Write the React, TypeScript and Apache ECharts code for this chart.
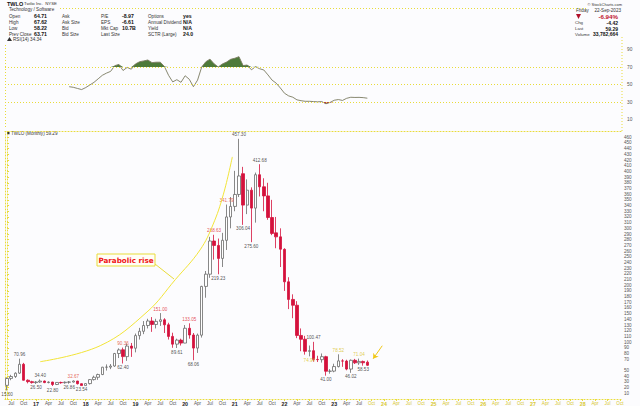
import React, { useEffect, useRef } from 'react';
import * as echarts from 'echarts';

// ---------- axis categories (monthly, Jun 2016 .. Oct 2028) ----------
const firstYear = 2016;
const firstMonth = 6;
const axisMonthCount = 149;
const monthAbbr = ['Jan', 'Feb', 'Mar', 'Apr', 'May', 'Jun', 'Jul', 'Aug', 'Sep', 'Oct', 'Nov', 'Dec'];
const categories: string[] = Array.from({ length: axisMonthCount }, (_, i) => {
  const m = firstMonth - 1 + i;
  const y = firstYear + Math.floor(m / 12);
  return `${y}-${String((m % 12) + 1).padStart(2, '0')}`;
});
const lastDataMonth = '2023-09';

// ---------- monthly candles, Jun 2016 .. Sep 2023 ----------
const opens = [
  23.99, 36.2, 39.5, 45.5, 61.0, 33.0, 30.5,
  28.85, 29.9, 31.5, 28.9, 29.8, 25.5, 29.1, 28.6, 29.5, 29.85, 31.6, 26.9,
  23.6, 27.1, 34.1, 38.2, 43.0, 55.9, 56.0, 58.0, 80.0, 86.5, 74.5, 93.0,
  89.3, 111.4, 119.0, 129.2, 137.1, 131.0, 136.4, 139.2, 130.4, 110.0, 96.4, 103.5,
  98.3, 124.3, 112.5, 89.5, 112.2, 197.9, 219.4, 277.7, 269.9, 247.1, 278.9, 320.0,
  338.5, 359.5, 396.0, 340.8, 367.0, 335.5, 394.2, 373.0, 357.0, 319.0, 292.0, 285.0,
  263.0, 206.0, 175.0, 164.8, 111.7, 105.0, 83.8, 84.9, 69.5, 69.14, 74.4, 48.8,
  49.0, 57.0, 67.0, 66.6, 52.6, 68.0, 63.6, 66.0, 64.71,
];
const highs = [
  38.0, 42.5, 46.9, 70.96, 63.5, 34.5, 32.0,
  31.5, 34.4, 32.5, 31.0, 30.2, 29.5, 30.5, 30.8, 31.5, 32.67, 31.9, 27.5,
  27.8, 35.0, 41.0, 44.5, 56.5, 60.8, 61.5, 81.0, 89.0, 90.36, 97.5, 98.5,
  115.0, 125.0, 137.0, 141.0, 144.0, 141.0, 151.0, 142.0, 134.0, 116.5, 106.0, 106.0,
  130.0, 133.05, 116.0, 115.0, 199.0, 225.0, 285.0, 288.63, 282.0, 292.0, 341.79, 355.0,
  401.0, 457.3, 408.0, 386.0, 372.0, 398.0, 412.68, 388.0, 380.0, 350.0, 320.0, 300.0,
  265.0, 214.0, 184.0, 172.0, 124.0, 111.0, 94.0, 100.47, 76.0, 80.0, 76.0, 52.5,
  62.0, 78.52, 70.0, 69.0, 69.5, 70.5, 71.04, 67.5, 67.62,
];
const lows = [
  15.0, 33.0, 37.0, 44.0, 32.5, 27.5, 27.0,
  26.5, 28.5, 27.8, 27.5, 22.8, 24.5, 26.8, 26.9, 26.86, 29.0, 25.5, 23.54,
  23.6, 25.5, 32.5, 33.7, 42.0, 50.0, 52.5, 56.5, 72.0, 62.4, 67.0, 74.0,
  82.0, 104.5, 114.0, 124.0, 118.0, 124.0, 128.5, 116.0, 104.5, 90.0, 89.61, 94.0,
  98.0, 106.0, 68.06, 81.0, 108.0, 178.0, 213.0, 245.0, 219.23, 232.0, 262.0, 300.0,
  330.0, 355.0, 306.04, 325.0, 275.6, 310.0, 356.0, 330.0, 315.0, 288.0, 265.0, 232.0,
  190.0, 158.0, 142.0, 107.0, 84.0, 78.0, 74.94, 65.6, 65.0, 64.0, 41.0, 44.5,
  47.0, 55.5, 56.5, 50.5, 46.02, 61.5, 60.0, 58.53, 58.22,
];
const closes = [
  36.08, 39.5, 45.3, 61.0, 33.0, 30.5, 28.85,
  29.9, 31.5, 28.87, 29.8, 25.5, 29.1, 28.6, 29.5, 29.85, 31.6, 26.9, 23.6,
  27.1, 34.1, 38.18, 43.0, 55.9, 56.0, 57.9, 79.9, 86.28, 74.5, 93.0, 89.3,
  111.4, 119.0, 129.2, 137.1, 131.0, 136.4, 139.2, 130.4, 110.0, 96.4, 103.5, 98.28,
  124.3, 112.5, 89.5, 112.2, 197.9, 219.4, 277.7, 269.9, 247.1, 278.9, 320.0, 338.5,
  359.5, 392.0, 340.8, 367.0, 335.5, 394.2, 373.0, 357.0, 319.0, 291.0, 285.0, 263.3,
  206.0, 175.0, 164.8, 111.7, 105.0, 83.8, 84.9, 69.5, 69.14, 74.4, 48.8, 48.96,
  57.0, 67.0, 66.6, 52.6, 68.0, 63.6, 66.0, 63.71, 59.29,
];

// ---------- RSI(14), Sep 2017 .. Sep 2023 ----------
const rsiFirstMonth = '2017-09';
const rsiValues = [
  47.5, 46.8, 45.5, 44.2,
  46.5, 49.5, 52.5, 56.5, 60.5, 63.0, 65.0, 71.5, 73.0, 66.0, 69.5, 67.5,
  73.5, 76.0, 77.0, 78.0, 75.0, 75.5, 75.5, 70.5, 60.5, 53.0, 55.5, 52.5,
  60.0, 56.0, 47.5, 55.0, 70.0, 76.0, 79.0, 73.6, 70.0, 73.5, 75.6, 78.8,
  80.0, 81.8, 71.6, 72.3, 66.8, 70.3, 68.0, 66.6, 61.0, 55.0, 51.5, 46.0,
  40.0, 37.0, 35.5, 32.5, 31.5, 30.8, 30.8, 30.5, 30.2, 30.5, 28.0, 29.5,
  32.0, 32.8, 31.8, 34.2, 35.4, 35.2, 35.3, 35.0, 34.34,
];
const rsiOverbought = 70;
const rsiMid = 50;
const rsiOversold = 30;

// ---------- annotated highs / lows ----------
const highLabelMonths = ['2016-09', '2017-02', '2017-10', '2018-10', '2019-07', '2020-02', '2020-08', '2020-11', '2021-02', '2021-07', '2022-08', '2023-02', '2023-07'];
const lowLabelMonths = ['2016-06', '2017-01', '2017-05', '2017-09', '2017-12', '2018-10', '2019-11', '2020-03', '2020-09', '2021-03', '2021-05', '2022-07', '2022-11', '2023-05', '2023-08'];

// ---------- hand-drawn annotations (month index, price) ----------
const parabolaMonthIdx = [8.0, 22.5, 33.8, 40.6, 46.6, 49.7, 52.2, 54.4];
const parabolaPrice = [65.6, 93.7, 153, 209.6, 262, 306, 358.8, 425.5];
const arrowMonthIdx = [90.6, 88.4];
const arrowPrice = [93.6, 70.8];

// ---------- header texts ----------
const quoteLabels = [
  ['Open', '64.71', 'Ask', '', 'P/E', '-8.97', 'Options', 'yes'],
  ['High', '67.62', 'Ask Size', '', 'EPS', '-6.61', 'Annual Dividend', 'N/A'],
  ['Low', '58.22', 'Bid', '', 'Mkt Cap', '10.7B', 'Yield', 'N/A'],
  ['Prev Close', '63.71', 'Bid Size', '', 'Last Size', '', 'SCTR (Large)', '24.0'],
];
const summaryRows = [
  ['Chg', '-4.42'],
  ['Last', '59.29'],
  ['Volume', '33,782,664'],
];

const FONT = 'Liberation Sans, Arial, sans-serif';
const YELLOW = '#e9dc3a';
const RED = '#d4113c';

const monthIndex = (m: string) => categories.indexOf(m);

export default function App() {
  const ref = useRef<HTMLDivElement>(null);
  useEffect(() => {
    document.body.style.margin = '0';
    document.body.style.background = '#fcfcfe';
    const chart = echarts.init(ref.current!, null, { renderer: 'svg' });

    const candleData = opens.map((o, i) => [o, closes[i], lows[i], highs[i]]);
    const lastClose = closes[closes.length - 1];
    const rsiStart = monthIndex(rsiFirstMonth);
    const rsiFull: (number | string)[] = categories.map((_, i) =>
      i >= rsiStart && i - rsiStart < rsiValues.length ? rsiValues[i - rsiStart] : '-'
    );
    const obBase = rsiFull.map((v) => (v === '-' ? '-' : rsiOverbought));
    const obDelta = rsiFull.map((v) => (v === '-' ? '-' : Math.max(0, (v as number) - rsiOverbought)));
    const osBase = rsiFull.map((v) => (v === '-' ? '-' : Math.min(v as number, rsiOversold)));
    const osDelta = rsiFull.map((v) => (v === '-' ? '-' : rsiOversold - Math.min(v as number, rsiOversold)));

    const highColor: Record<string, string> = {
      '2017-10': '#e0402a', '2018-10': '#e0402a', '2019-07': '#e0202a', '2020-02': '#e0202a',
      '2020-08': '#e0202a', '2020-11': '#e0402a', '2023-02': '#d8c020', '2023-07': '#d8c020',
    };
    const lowColor: Record<string, string> = { '2022-07': '#d8c020' };

    const highPts = highLabelMonths.map((m) => {
      const i = monthIndex(m);
      return { value: [m, highs[i]], label: { color: highColor[m] || '#222' } };
    });
    const lowPts = lowLabelMonths.map((m) => {
      const i = monthIndex(m);
      return { value: [m, lows[i]], label: { color: lowColor[m] || '#222' } };
    });

    const lastIdx = monthIndex(lastDataMonth);
    const isQuarterStart = (i: number) => {
      const mm = parseInt(categories[i].slice(5), 10);
      return mm % 3 === 1;
    };

    const dotted = { color: YELLOW, type: [1, 2] as any, width: 1 };

    const txt = (x: number, y: number, text: string, opts: any = {}) => ({
      type: 'text', x, y,
      style: {
        text, fontSize: 5, fontFamily: FONT, fill: '#333', verticalAlign: 'middle',
        ...opts,
      },
    });

    const graphics: any[] = [];
    graphics.push(txt(7, 3.5, 'TWLO', { fontWeight: 'bold', fontSize: 5.5, fill: '#111' }));
    graphics.push(txt(24, 3.6, 'Twilio Inc.  NYSE', { fontSize: 4.3 }));
    graphics.push(txt(9, 9.5, 'Technology / Software', { fontSize: 4.6 }));
    const rowY = [16, 22, 28, 34];
    const colX = [9, 34, 62, 0, 101, 122, 148, 183];
    quoteLabels.forEach((row, r) => {
      row.forEach((t, c) => {
        if (!t || c === 3) return;
        const bold = c % 2 === 1;
        graphics.push(txt(colX[c], rowY[r], t, bold ? { fontWeight: 'bold', fill: '#111', fontSize: 5.2 } : { fontSize: 4.6 }));
      });
    });
    graphics.push({ type: 'polygon', shape: { points: [[7, 41], [9.5, 37], [12, 41]] }, style: { fill: '#333' } });
    graphics.push(txt(13, 39.3, 'RSI(14) 34.34', { fontSize: 4.6 }));

    graphics.push(txt(622, 4, '\u00a9 StockCharts.com', { align: 'right', fontSize: 4 }));
    graphics.push(txt(576, 10, 'Friday', { fontSize: 4.6 }));
    graphics.push(txt(621, 10, '22-Sep-2023', { align: 'right', fontSize: 4.6 }));
    graphics.push({ type: 'polygon', shape: { points: [[576, 14], [581, 14], [578.5, 19]] }, style: { fill: '#b0102a' } });
    graphics.push(txt(618, 16.5, '-6.94%', { align: 'right', fontWeight: 'bold', fill: '#c0102a', fontSize: 6.2 }));
    summaryRows.forEach((row, r) => {
      graphics.push(txt(575, 22.8 + r * 5.8, row[0], { fontSize: 4.4 }));
      graphics.push(txt(618, 22.8 + r * 5.8, row[1], { align: 'right', fontWeight: 'bold', fill: '#111', fontSize: 5 }));
    });
    // header separators / panel frames
    graphics.push({ type: 'line', shape: { x1: 60, y1: 8.5, x2: 588, y2: 8.5 }, style: { stroke: YELLOW, lineDash: [1, 2], lineWidth: 1 } });
    graphics.push({ type: 'line', shape: { x1: 622, y1: 37, x2: 622, y2: 131 }, style: { stroke: YELLOW, lineDash: [1, 2], lineWidth: 1 } });
    graphics.push({ type: 'line', shape: { x1: 5.5, y1: 45, x2: 5.5, y2: 128 }, style: { stroke: YELLOW, lineDash: [1, 2], lineWidth: 1 } });
    // main legend
    graphics.push({ type: 'rect', shape: { x: 7, y: 131.8, width: 2.5, height: 2.5 }, style: { fill: '#333' } });
    graphics.push(txt(11, 133.2, 'TWLO (Monthly) 59.29', { fontSize: 4.6 }));
    // Parabolic rise callout
    graphics.push({ type: 'rect', shape: { x: 97, y: 254, width: 58, height: 12 }, style: { fill: '#fffef6', stroke: YELLOW, lineWidth: 1 } });
    graphics.push(txt(126, 260.3, 'Parabolic rise', { align: 'center', fontWeight: 'bold', fontSize: 7.2, fill: '#f01414', fontFamily: 'DejaVu Sans, sans-serif' }));
    graphics.push({ type: 'line', shape: { x1: 155, y1: 264, x2: 174, y2: 279 }, style: { stroke: YELLOW, lineWidth: 1 } });

    const option: any = {
      animation: false,
      backgroundColor: '#fcfcfe',
      textStyle: { fontFamily: FONT },
      grid: [
        { left: 5, right: 18, top: 40.75, height: 87.5 },
        { left: 5, right: 18, top: 131.6, height: 267.8 },
      ],
      xAxis: [
        { type: 'category', gridIndex: 0, data: categories, boundaryGap: true, show: false },
        {
          type: 'category', gridIndex: 1, data: categories, boundaryGap: true,
          axisLine: { show: true, lineStyle: dotted },
          axisTick: { show: true, interval: (i: number) => isQuarterStart(i), length: 2, lineStyle: { color: YELLOW }, alignWithLabel: true },
          axisLabel: {
            interval: (i: number) => isQuarterStart(i),
            margin: 2,
            fontSize: 5,
            formatter: (v: string) => {
              const mm = parseInt(v.slice(5), 10);
              const future = categories.indexOf(v) > lastIdx;
              if (mm === 1) return `{${future ? 'fy' : 'y'}|${v.slice(2, 4)}}`;
              return `{${future ? 'fm' : 'm'}|${monthAbbr[mm - 1]}}`;
            },
            rich: {
              y: { fontSize: 5.3, fontWeight: 'bold', color: '#222', fontFamily: FONT },
              m: { fontSize: 4.6, color: '#555', fontFamily: FONT },
              fy: { fontSize: 5.3, fontWeight: 'bold', color: '#d8c830', fontFamily: FONT },
              fm: { fontSize: 4.6, color: '#d8c830', fontFamily: FONT },
            },
          },
          splitLine: { show: false },
        },
        { type: 'value', gridIndex: 1, min: -0.5, max: axisMonthCount - 0.5, show: false },
        {
          type: 'category', gridIndex: 1, data: categories, position: 'top',
          axisLine: { show: true, lineStyle: dotted }, axisTick: { show: false }, axisLabel: { show: false },
        },
      ],
      yAxis: [
        {
          type: 'value', gridIndex: 0, position: 'right', min: 0, max: 100, interval: 10,
          axisLine: { show: false }, axisTick: { show: false }, splitLine: { show: false },
          axisLabel: {
            fontSize: 4.8, color: '#555', margin: 5, lineHeight: 4.8,
            formatter: (v: number) => (Math.round(v / 10) % 2 === 1 ? String(v) : ''),
          },
        },
        {
          type: 'value', gridIndex: 1, position: 'right', min: 0, max: 470, interval: 10,
          axisLine: { show: true, lineStyle: dotted },
          axisTick: { show: true, length: 2, lineStyle: { color: YELLOW } },
          splitLine: { show: false },
          axisLabel: {
            fontSize: 4.6, color: '#555', margin: 2, lineHeight: 4.6,
            // the last-price box sits on top of the tick label nearest to it
            formatter: (v: number) =>
              v === 0 || v === 470 || Math.abs(v - lastClose) < 5 ? '' : String(v),
          },
        },
        {
          type: 'value', gridIndex: 1, position: 'left', min: 0, max: 470,
          axisLine: { show: true, lineStyle: dotted }, axisTick: { show: false }, axisLabel: { show: false }, splitLine: { show: false },
        },
      ],
      series: [
        // RSI panel
        {
          type: 'line', xAxisIndex: 0, yAxisIndex: 0, data: obBase, stack: 'ob', symbol: 'none',
          lineStyle: { width: 0, opacity: 0 }, silent: true,
        },
        {
          type: 'line', xAxisIndex: 0, yAxisIndex: 0, data: obDelta, stack: 'ob', symbol: 'none',
          lineStyle: { width: 0, opacity: 0 }, areaStyle: { color: '#4e7a3a', opacity: 1 }, silent: true,
        },
        {
          type: 'line', xAxisIndex: 0, yAxisIndex: 0, data: osBase, stack: 'os', symbol: 'none',
          lineStyle: { width: 0, opacity: 0 }, silent: true,
        },
        {
          type: 'line', xAxisIndex: 0, yAxisIndex: 0, data: osDelta, stack: 'os', symbol: 'none',
          lineStyle: { width: 0, opacity: 0 }, areaStyle: { color: '#c03048', opacity: 1 }, silent: true,
        },
        {
          type: 'line', xAxisIndex: 0, yAxisIndex: 0, data: rsiFull, symbol: 'none',
          lineStyle: { color: '#7a7a60', width: 0.9 },
          markLine: {
            silent: true, symbol: 'none', animation: false,
            data: [
              { yAxis: rsiOverbought, lineStyle: { color: YELLOW, type: [1, 2], width: 1 }, label: { show: false } },
              { yAxis: rsiMid, lineStyle: { color: YELLOW, type: [1, 2], width: 1 }, label: { show: false } },
              { yAxis: rsiOversold, lineStyle: { color: YELLOW, type: [1, 2], width: 1 }, label: { show: false } },
              {
                yAxis: rsiValues[rsiValues.length - 1], lineStyle: { opacity: 0 },
                label: {
                  show: true, position: 'end', distance: 1, formatter: rsiValues[rsiValues.length - 1].toFixed(2),
                  fontSize: 4.3, lineHeight: 4.4, color: '#fff', backgroundColor: '#8a8a8a', padding: [0, 1], offset: [0, -1.5],
                },
              },
            ],
          },
        },
        // price panel
        {
          type: 'candlestick', xAxisIndex: 1, yAxisIndex: 1, data: candleData, barWidth: '72%',
          itemStyle: { color: '#ffffff', color0: RED, borderColor: '#6a6a6a', borderColor0: RED, borderWidth: 0.8 },
          markLine: {
            silent: true, symbol: 'none', animation: false,
            data: [
              {
                yAxis: lastClose, lineStyle: { opacity: 0 },
                label: {
                  show: true, position: 'end', distance: 0, formatter: lastClose.toFixed(2),
                  fontSize: 4.4, lineHeight: 4.6, color: '#fff', backgroundColor: '#333', padding: [0, 1],
                },
              },
            ],
          },
        },
        {
          type: 'scatter', xAxisIndex: 1, yAxisIndex: 1, data: highPts, symbolSize: 0, silent: true,
          label: {
            show: true, position: 'top', distance: 1.5, fontSize: 4.6,
            formatter: (p: any) => Number(p.value[1]).toFixed(2),
          },
        },
        {
          type: 'scatter', xAxisIndex: 1, yAxisIndex: 1, data: lowPts, symbolSize: 0, silent: true,
          label: {
            show: true, position: 'bottom', distance: 1.5, fontSize: 4.6,
            formatter: (p: any) => Number(p.value[1]).toFixed(2),
          },
        },
        {
          type: 'line', xAxisIndex: 2, yAxisIndex: 1, smooth: 0.4, symbol: 'none', silent: true,
          data: parabolaMonthIdx.map((x, i) => [x, parabolaPrice[i]]),
          lineStyle: { color: '#f2e438', width: 1 },
        },
        {
          type: 'lines', coordinateSystem: 'cartesian2d', xAxisIndex: 2, yAxisIndex: 1, silent: true,
          symbol: ['none', 'arrow'], symbolSize: 5,
          lineStyle: { color: '#f0c818', width: 1, opacity: 1 },
          data: [{ coords: [[arrowMonthIdx[0], arrowPrice[0]], [arrowMonthIdx[1], arrowPrice[1]]] }],
        },
      ],
      graphic: graphics,
    };
    chart.setOption(option);
    return () => chart.dispose();
  }, []);
  return <div ref={ref} style={{ width: 640, height: 406 }} />;
}
